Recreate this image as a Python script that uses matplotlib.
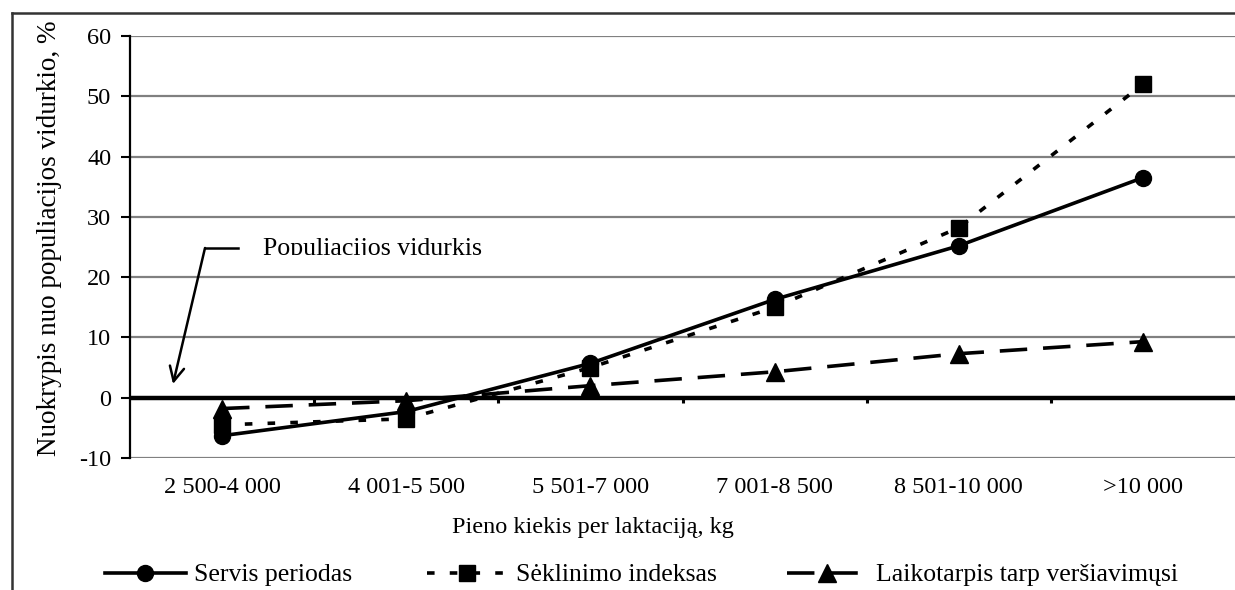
import matplotlib
matplotlib.use("Agg")
import matplotlib.pyplot as plt
from matplotlib.lines import Line2D
from matplotlib.transforms import Bbox
import numpy as np

categories = ["2 500-4 000", "4 001-5 500", "5 501-7 000", "7 001-8 500", "8 501-10 000", ">10 000"]
servis = [-6.3, -2.3, 5.7, 16.3, 25.2, 36.5]
seklinimo = [-4.5, -3.5, 5.0, 15.0, 28.2, 52.0]
laikotarpis = [-1.8, -0.5, 2.0, 4.3, 7.3, 9.3]
series_names = ["Servis periodas", "Sėklinimo indeksas", "Laikotarpis tarp veršiavimųsi"]
yticks = [-10, 0, 10, 20, 30, 40, 50, 60]

plt.rcParams['font.family'] = ['Liberation Serif', 'DejaVu Serif']
plt.rcParams['font.size'] = 17.5
plt.rcParams['axes.unicode_minus'] = False

W, H = 1235, 590
fig = plt.figure(figsize=(W / 100, H / 100), dpi=100)
ax = fig.add_axes([130 / W, (H - 458) / H, (W - 130) / W, (458 - 36) / H])

x = np.arange(len(categories))
styles = [
    dict(color='black', lw=2.6, ls='-', marker='o', ms=11.5),
    dict(color='black', lw=2.6, ls=(0, (2.1, 4.2)), marker='s', ms=11),
    dict(color='black', lw=2.6, ls=(0, (7.6, 4.4)), marker='^', ms=12.5),
]
data = [servis, seklinimo, laikotarpis]
handles = []
for vals, st in zip(data[::-1], styles[::-1]):
    ax.plot(x, vals, zorder=4, clip_on=False, **st)
for st, name in zip(styles, series_names):
    handles.append(Line2D([], [], label=name, **st))

ax.set_xlim(-0.5, len(categories) - 0.5)
ax.set_ylim(-10, 60)
ax.set_yticks(yticks)
for yv in yticks:
    if yv == 0:
        continue
    ax.axhline(yv, color='#808080', lw=1.6, zorder=1)
ax.axhline(0, color='black', lw=3.2, zorder=3)
bounds = np.arange(len(categories) + 1) - 0.5
ax.vlines(bounds[1:-1], 0, -0.9, color='black', lw=2.2, zorder=3)

ax.set_xticks(x)
ax.set_xticklabels(categories)
ax.tick_params(axis='x', length=0, pad=14)
ax.tick_params(axis='y', length=6.5, width=1.5, direction='out', pad=7)
for s in ['top', 'right', 'bottom']:
    ax.spines[s].set_visible(False)
ax.spines['left'].set_linewidth(1.6)

fig.text(50 / W, 1 - 238 / H, "Nuokrypis nuo populiacijos vidurkio, %", rotation=90,
         ha='center', va='center', fontsize=19.5)
fig.text(593 / W, 1 - 527 / H, "Pieno kiekis per laktaciją, kg", ha='center', va='center')

# annotation
t = fig.text(263 / W, 1 - 255 / H, "Populiacijos vidurkis", ha='left', va='baseline',
             fontsize=18.6)
t.set_clip_box(Bbox([[0, H - 255], [W, H]]))
t.set_clip_on(True)
fig.add_artist(Line2D([238 / W, 205 / W], [1 - 248 / H, 1 - 248 / H], color='black', lw=1.8))
ax.annotate("", xy=(173 / W, 1 - 384 / H), xycoords='figure fraction',
            xytext=(205 / W, 1 - 248 / H), textcoords='figure fraction',
            arrowprops=dict(arrowstyle='->', color='black', lw=1.8, mutation_scale=26,
                            shrinkA=0, shrinkB=0))

# outer border
fig.add_artist(Line2D([12 / W, 1.0], [1 - 13 / H, 1 - 13 / H], color='#333333', lw=1.8))
fig.add_artist(Line2D([12 / W, 12 / W], [0, 1 - 13 / H], color='#333333', lw=1.8))

# legend entries
leg_x = [105, 427, 787]
leg_fs = 18.5
for h, lx in zip(handles, leg_x):
    fig.legend(handles=[h], loc='center left', bbox_to_anchor=(lx / W, 1 - 575 / H),
               frameon=False, handlelength=3.15, handletextpad=0.3, borderpad=0,
               borderaxespad=0, fontsize=leg_fs)

fig.savefig("out.png", dpi=100)
